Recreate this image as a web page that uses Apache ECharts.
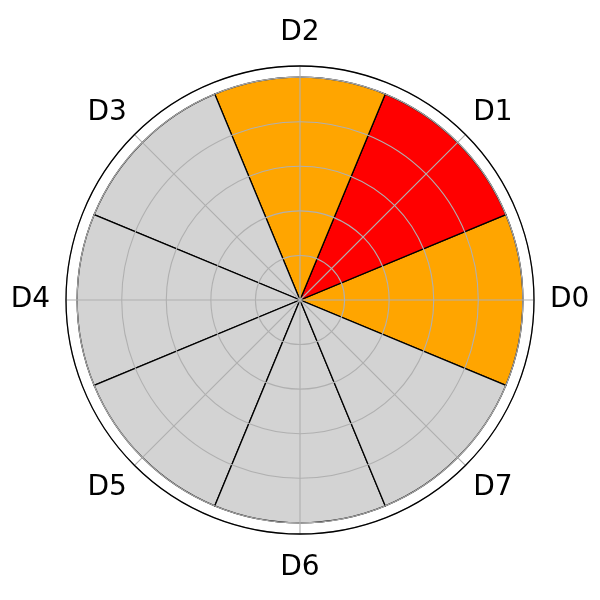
<!DOCTYPE html>
<html>
<head>
<meta charset="utf-8">
<script src="https://cdn.jsdelivr.net/npm/echarts@6/dist/echarts.min.js"></script>
<style>
  html, body { margin: 0; padding: 0; background: #fff; }
  #container { width: 600px; height: 600px; }
</style>
</head>
<body>
<div id="container"></div>
<script>
var categories = ['D0', 'D1', 'D2', 'D3', 'D4', 'D5', 'D6', 'D7'];
var values = [1, 1, 1, 1, 1, 1, 1, 1];
var barColors = ['#ffa500', '#ff0000', '#ffa500', '#d3d3d3', '#d3d3d3', '#d3d3d3', '#d3d3d3', '#d3d3d3'];

// extra label padding so each label sits centred on the same radius, like matplotlib
var labelPadding = [[0, 0, 0, 5], 0, [0, 0, 8, 0], 0, [0, 5, 0, 0], 0, [9, 0, 0, 0], 0];

var myChart = echarts.init(document.getElementById('container'));

var gridColor = '#b0b0b0';

myChart.setOption({
    animation: false,
    polar: [
        { center: [300, 300], radius: 234 },
        { center: [300, 300], radius: 234 }
    ],
    angleAxis: [{
        polarIndex: 0,
        type: 'category',
        data: categories.map(function (c, i) {
            return { value: c, textStyle: { padding: labelPadding[i] } };
        }),
        startAngle: 337.5,
        clockwise: false,
        axisLine: { show: false },
        axisTick: { show: false },
        axisLabel: {
            show: true,
            margin: 11,
            color: '#000',
            fontFamily: 'DejaVu Sans',
            fontSize: 28
        },
        splitLine: { show: false }
    }, {
        polarIndex: 1,
        type: 'value',
        min: 0,
        max: 360,
        interval: 45,
        startAngle: 0,
        clockwise: false,
        z: 3,
        axisLine: { show: true, lineStyle: { color: '#000', width: 1.3 } },
        axisTick: { show: false },
        axisLabel: { show: false },
        splitLine: { show: true, lineStyle: { color: gridColor, width: 1.1 } }
    }],
    radiusAxis: [{
        polarIndex: 0,
        type: 'value',
        min: 0,
        max: 1.05,
        axisLine: { show: false },
        axisTick: { show: false },
        axisLabel: { show: false },
        splitLine: { show: false }
    }, {
        polarIndex: 1,
        type: 'value',
        min: 0,
        max: 1.05,
        interval: 0.2,
        z: 3,
        axisLine: { show: false },
        axisTick: { show: false },
        axisLabel: { show: false },
        splitLine: { show: true, lineStyle: { color: gridColor, width: 1.1 } }
    }],
    series: [{
        type: 'bar',
        coordinateSystem: 'polar',
        polarIndex: 0,
        barCategoryGap: '0%',
        data: values.map(function (v, i) {
            return { value: v, itemStyle: { color: barColors[i] } };
        }),
        itemStyle: { borderColor: '#000', borderWidth: 1.3 }
    }]
});
</script>
</body>
</html>
